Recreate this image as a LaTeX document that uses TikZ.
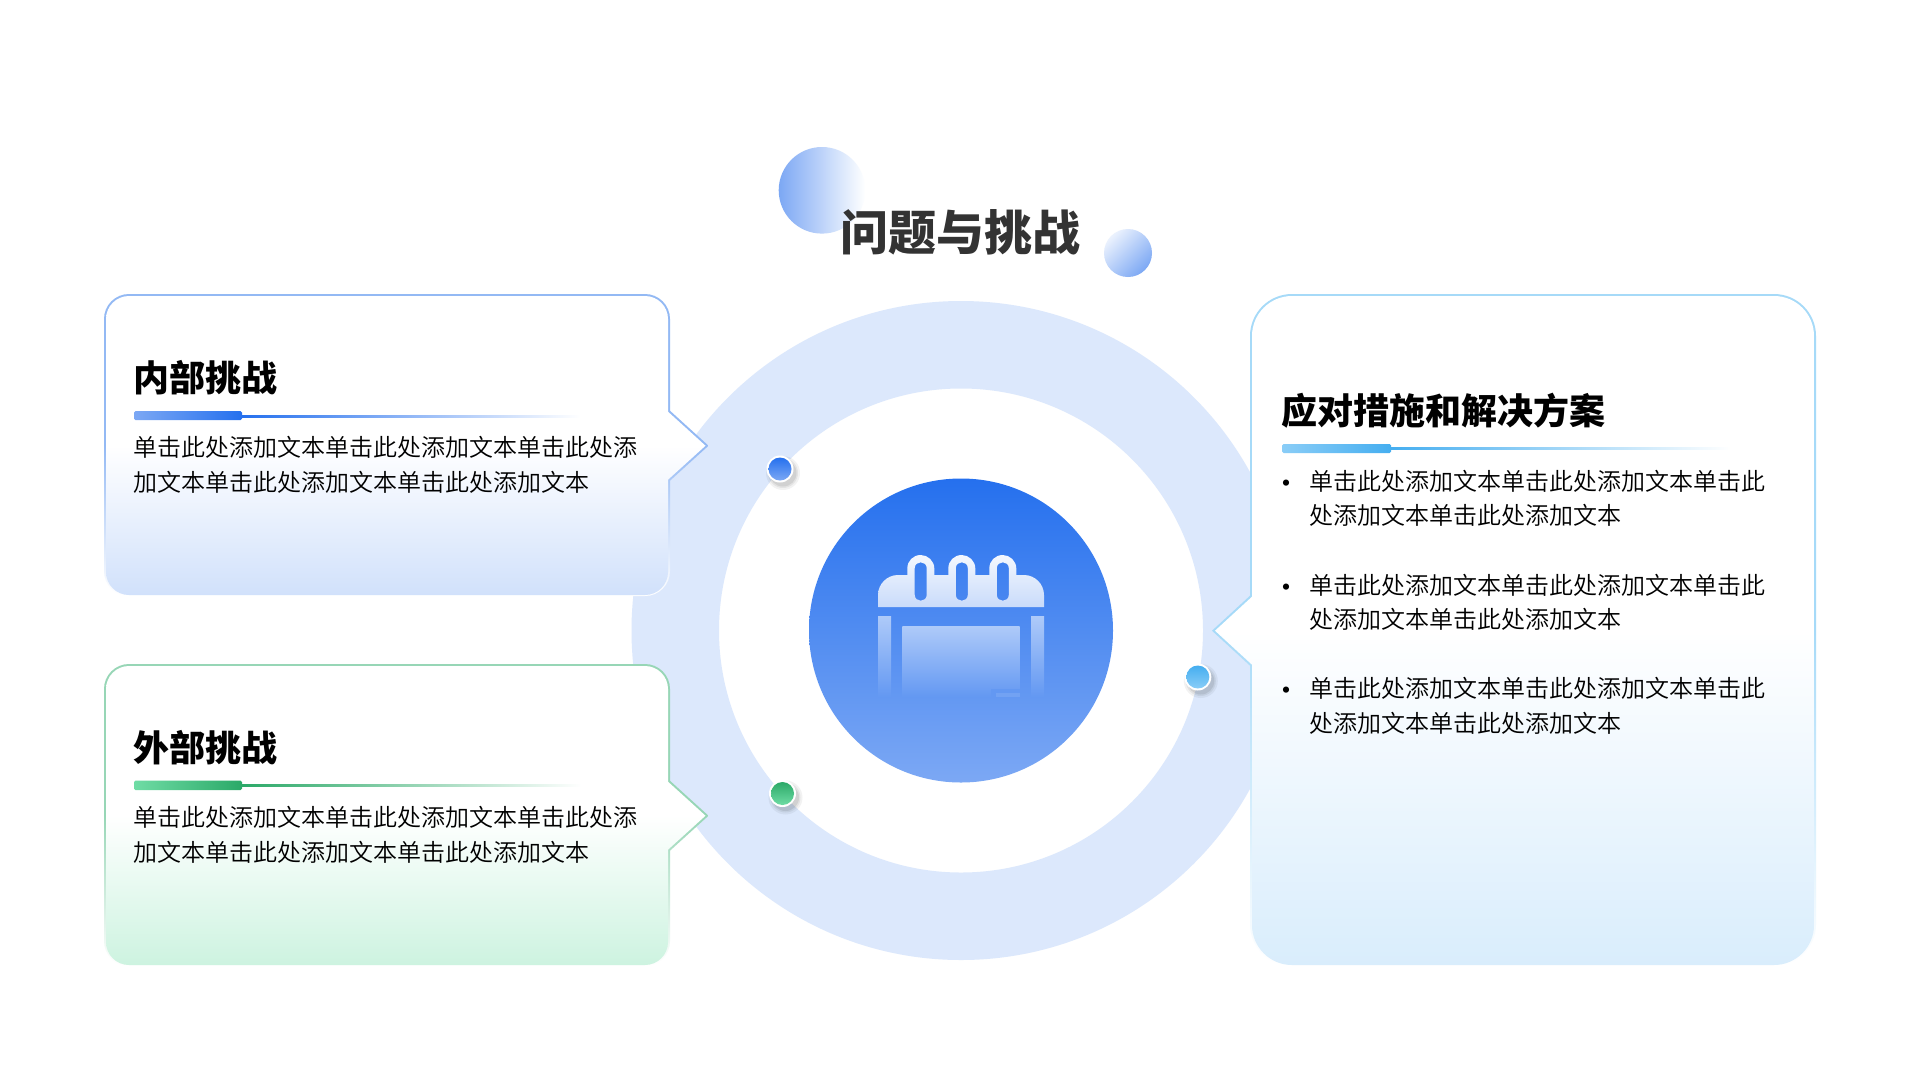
\documentclass[tikz,border=0pt]{standalone}
\usepackage{fontspec}
\setmainfont[BoldFont={Noto Sans CJK SC Black}]{Noto Sans CJK SC DemiLight}
\definecolor{ringc}{HTML}{DCE8FC}
\definecolor{blueA}{HTML}{2570EE}
\definecolor{blueB}{HTML}{7CA8F4}
\definecolor{greenA}{HTML}{2BA968}
\definecolor{greenB}{HTML}{6FDCA5}
\definecolor{skyA}{HTML}{45AEF0}
\definecolor{skyB}{HTML}{8ACDF7}
\definecolor{bordBlue}{HTML}{93B9F4}
\definecolor{bordGreen}{HTML}{97D6B6}
\definecolor{bordSky}{HTML}{A6DAF8}
\definecolor{botBlue}{HTML}{D1E1FB}
\definecolor{botGreen}{HTML}{CDF3E0}
\definecolor{botSky}{HTML}{D9EDFC}
\definecolor{titlec}{HTML}{333333}
\definecolor{iconTop}{HTML}{F4F8FE}
\definecolor{iconMid}{HTML}{C9DBFA}
\definecolor{iconLow}{HTML}{AECAF9}
\definecolor{iconEnd}{HTML}{6398F2}
\pgfdeclareverticalshading{edgeBlue}{100bp}{color(0bp)=(white); color(25bp)=(white); color(50bp)=(bordBlue); color(100bp)=(bordBlue)}
\pgfdeclareverticalshading{edgeGreen}{100bp}{color(0bp)=(white); color(25bp)=(white); color(50bp)=(bordGreen); color(100bp)=(bordGreen)}
\pgfdeclareverticalshading{edgeSky}{100bp}{color(0bp)=(white); color(25bp)=(white); color(50bp)=(bordSky); color(100bp)=(bordSky)}
\pgfdeclareverticalshading{fillBlue}{100bp}{color(0bp)=(botBlue); color(25bp)=(botBlue); color(50bp)=(white); color(100bp)=(white)}
\pgfdeclareverticalshading{fillGreen}{100bp}{color(0bp)=(botGreen); color(25bp)=(botGreen); color(50bp)=(white); color(100bp)=(white)}
\pgfdeclareverticalshading{fillSky}{100bp}{color(0bp)=(botSky); color(25bp)=(botSky); color(50bp)=(white); color(100bp)=(white)}
\pgfdeclareverticalshading{iconHead}{100bp}{color(0bp)=(iconMid); color(25bp)=(iconMid); color(75bp)=(iconTop); color(100bp)=(iconTop)}
\pgfdeclareverticalshading{iconBody}{100bp}{color(0bp)=(iconEnd); color(25bp)=(iconEnd); color(75bp)=(iconLow); color(100bp)=(iconLow)}
% right-pointing callout: l t r b R tipx tipy halfnotch
\newcommand{\rpath}[8]{(#1,#2+#5) .. controls (#1,#2+#5*0.448) and (#1+#5*0.448,#2) .. (#1+#5,#2) -- (#3-#5,#2) .. controls (#3-#5*0.448,#2) and (#3,#2+#5*0.448) .. (#3,#2+#5) -- (#3,#7-#8) -- (#6,#7) -- (#3,#7+#8) -- (#3,#4-#5) .. controls (#3,#4-#5*0.448) and (#3-#5*0.448,#4) .. (#3-#5,#4) -- (#1+#5,#4) .. controls (#1+#5*0.448,#4) and (#1,#4-#5*0.448) .. (#1,#4-#5) -- cycle}
% left-pointing callout
\newcommand{\lpath}[8]{(#1,#2+#5) .. controls (#1,#2+#5*0.448) and (#1+#5*0.448,#2) .. (#1+#5,#2) -- (#3-#5,#2) .. controls (#3-#5*0.448,#2) and (#3,#2+#5*0.448) .. (#3,#2+#5) -- (#3,#4-#5) .. controls (#3,#4-#5*0.448) and (#3-#5*0.448,#4) .. (#3-#5,#4) -- (#1+#5,#4) .. controls (#1+#5*0.448,#4) and (#1,#4-#5*0.448) .. (#1,#4-#5) -- (#1,#7+#8) -- (#6,#7) -- (#1,#7-#8) -- cycle}
\newcommand{\dotmark}[3]{%
  \fill[black,opacity=.05] (#1+3,#2+4) circle[radius=17];
  \fill[black,opacity=.06] (#1+3,#2+4) circle[radius=15];
  \fill[black,opacity=.08] (#1+3,#2+4) circle[radius=13.5];
  \fill[white] (#1,#2) circle[radius=13.5];
  \shade[top color=#3A,bottom color=#3B] (#1,#2) circle[radius=11.5];}
\tikzset{
  x=1pt,y=-1pt,
  body/.style={anchor=west,inner sep=0pt,outer sep=0pt,align=left,font=\fontsize{24}{34.5}\selectfont,text=black},
  head/.style={anchor=west,inner sep=0pt,outer sep=0pt,font=\fontsize{36}{40}\selectfont\bfseries,text=black},
  bulletmark/.style={anchor=center,inner sep=0pt,outer sep=0pt,font=\fontsize{30}{30}\selectfont,text=black},
}
\begin{document}
\begin{tikzpicture}
\fill[white] (0,0) rectangle (1920,1080);
\useasboundingbox (0,0) rectangle (1920,1080);
\coordinate (ctr) at (961,630.5);
% title circles
\shade[left color=blueB,right color=white] (822,190.3) circle[radius=43.3];
\shade[top color=white!85!blueB,bottom color=blueB,shading angle=45] (1128,253) circle[radius=24];
\node[inner sep=0pt,font=\fontsize{48}{52}\selectfont\bfseries,text=titlec] (title) at (960,232) {问题与挑战};
% ring
\fill[ringc,even odd rule] (ctr) circle[radius=329.5] (ctr) circle[radius=242];
% hub
\shade[top color=blueA,bottom color=blueB] (ctr) circle[radius=152];
% calendar icon
\path[shade,shading=iconHead,even odd rule]
  (878,607) -- (878,595) .. controls (878,584) and (887,575) .. (898,575) -- (907.3,575)
  -- (907.3,568.5) .. controls (907.3,561) and (913,555) .. (920.7,555) .. controls (928,555) and (934.3,561) .. (934.3,568.5) -- (934.3,575)
  -- (948.3,575) -- (948.3,568.5) .. controls (948.3,561) and (954,555) .. (961.8,555) .. controls (969,555) and (975.3,561) .. (975.3,568.5) -- (975.3,575)
  -- (989.3,575) -- (989.3,568.5) .. controls (989.3,561) and (995,555) .. (1002.8,555) .. controls (1010,555) and (1016.3,561) .. (1016.3,568.5) -- (1016.3,575)
  -- (1024,575) .. controls (1035,575) and (1044,584) .. (1044,595) -- (1044,607) -- cycle
  (914.7,568.3) .. controls (914.7,560.3) and (926.7,560.3) .. (926.7,568.3) -- (926.7,594.7) .. controls (926.7,602.7) and (914.7,602.7) .. (914.7,594.7) -- cycle
  (955.8,568.3) .. controls (955.8,560.3) and (967.8,560.3) .. (967.8,568.3) -- (967.8,594.7) .. controls (967.8,602.7) and (955.8,602.7) .. (955.8,594.7) -- cycle
  (996.8,568.3) .. controls (996.8,560.3) and (1008.8,560.3) .. (1008.8,568.3) -- (1008.8,594.7) .. controls (1008.8,602.7) and (996.8,602.7) .. (996.8,594.7) -- cycle;
\shade[shading=iconBody] (878,616) rectangle (891,697);
\shade[shading=iconBody] (1031,616) rectangle (1044,697);
\shade[shading=iconBody] (902.3,626.3) rectangle (1019.7,697);
\fill[iconEnd] (990.7,688.5) rectangle (1020,697.5);
\fill[iconEnd!90!white] (995.7,693) rectangle (1019.7,696.5);
% dots
\dotmark{780}{469}{blue}
\dotmark{782.5}{793.5}{green}
\dotmark{1197.8}{677}{sky}
% callouts
\path[shade,shading=edgeBlue] \rpath{104}{294}{670}{596}{25}{708.5}{445.7}{35};
\path[shade,shading=fillBlue] \rpath{106}{296}{668}{595}{23}{705.5}{445.7}{34};
\path[shade,shading=edgeGreen] \rpath{104}{664}{670}{966}{25}{708.5}{815.7}{35};
\path[shade,shading=fillGreen] \rpath{106}{666}{668}{965}{23}{705.5}{815.7}{34};
\path[shade,shading=edgeSky] \lpath{1250}{294}{1816}{966}{42}{1212}{630.7}{35};
\path[shade,shading=fillSky] \lpath{1252}{296}{1814}{965}{40}{1215}{630.7}{34};
% box 1
\node[head] (h1) at (133,378) {内部挑战};
\shade[left color=blueB,right color=blueA,rounded corners=1.5] (134,411) rectangle (242,420);
\shade[left color=blueA,right color=white] (242,415) rectangle (580,417);
\node[body] (t1) at (133,465) {单击此处添加文本单击此处添加文本单击此处添\\加文本单击此处添加文本单击此处添加文本};
% box 2
\node[head] (h2) at (133,748) {外部挑战};
\shade[left color=greenB,right color=greenA,rounded corners=1.5] (134,780.5) rectangle (242,790);
\shade[left color=greenA,right color=white] (242,784) rectangle (581,786);
\node[body] (t2) at (133,835) {单击此处添加文本单击此处添加文本单击此处添\\加文本单击此处添加文本单击此处添加文本};
% box 3
\node[head] (h3) at (1281,411) {应对措施和解决方案};
\shade[left color=skyB,right color=skyA,rounded corners=1.5] (1282,444) rectangle (1391,453);
\shade[left color=skyA,right color=white] (1391,447) rectangle (1730,449);
\node[bulletmark] (b1) at (1286,487) {•};
\node[body] (t3) at (1309,498.5) {单击此处添加文本单击此处添加文本单击此\\处添加文本单击此处添加文本};
\node[bulletmark] (b2) at (1286,591) {•};
\node[body] (t4) at (1309,602.5) {单击此处添加文本单击此处添加文本单击此\\处添加文本单击此处添加文本};
\node[bulletmark] (b3) at (1286,694) {•};
\node[body] (t5) at (1309,706) {单击此处添加文本单击此处添加文本单击此\\处添加文本单击此处添加文本};
\end{tikzpicture}
\end{document}
